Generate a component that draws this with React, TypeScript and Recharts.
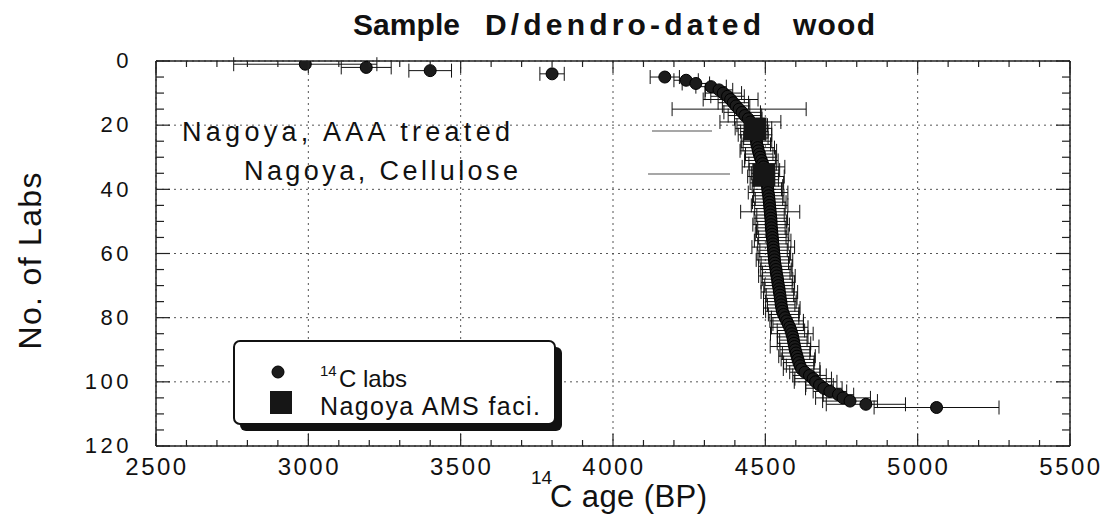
import React from "react"
import { ScatterChart, Scatter, XAxis, YAxis, CartesianGrid, ErrorBar, ReferenceLine } from "recharts"

// 14C ages (BP) of the labs, sorted, one per rank
const ages = [
  2990, 3190, 3400, 3800, 4170, 4240, 4272, 4322, 4348, 4362,
  4376, 4386, 4395, 4404, 4414, 4424, 4433, 4444, 4451, 4457,
  4461, 4464, 4466, 4469, 4471, 4472, 4475, 4477, 4480, 4483,
  4487, 4491, 4494, 4497, 4499, 4502, 4503, 4505, 4507, 4508,
  4509, 4511, 4512, 4513, 4514, 4515, 4516, 4517, 4518, 4519,
  4519, 4520, 4521, 4522, 4523, 4524, 4525, 4526, 4527, 4528,
  4529, 4530, 4531, 4533, 4535, 4536, 4538, 4540, 4541, 4543,
  4545, 4546, 4548, 4549, 4551, 4552, 4554, 4556, 4560, 4565,
  4570, 4575, 4580, 4584, 4587, 4590, 4592, 4594, 4596, 4598,
  4601, 4604, 4607, 4610, 4614, 4619, 4630, 4645, 4657, 4665,
  4678, 4692, 4712, 4740, 4755, 4778, 4830, 5062,
]

// 1-sigma errors
const errors = [
  235, 82, 70, 40, 48, 40, 45, 50, 45, 60,
  55, 90, 50, 45, 220, 60, 55, 45, 100, 50,
  60, 45, 55, 40, 50, 45, 55, 60, 45, 50,
  55, 45, 70, 50, 45, 60, 40, 55, 50, 45,
  65, 50, 45, 55, 60, 50, 97, 45, 55, 50,
  60, 45, 50, 55, 45, 60, 50, 70, 45, 55,
  50, 60, 45, 55, 50, 45, 60, 50, 55, 45,
  50, 60, 45, 55, 50, 45, 60, 55, 50, 45,
  55, 50, 60, 45, 70, 50, 45, 55, 80, 50,
  45, 60, 55, 50, 45, 60, 50, 55, 60, 70,
  45, 60, 55, 50, 90, 90, 130, 205,
]

const nagoyaAges = [4466, 4495]
const nagoyaRanks = [21.2, 35.5]
const nagoyaErrors = [30, 30]

const xTicks = [2500, 3000, 3500, 4000, 4500, 5000, 5500]
const yTicks = [0, 20, 40, 60, 80, 100, 120]
const xMinorTicks = Array.from({ length: 31 }, (_, i) => 2500 + i * 100)
const yMinorTicks = Array.from({ length: 25 }, (_, i) => i * 5)

const labs = ages.map((age, i) => ({ age, rank: i + 1, err: errors[i] }))
const nagoya = nagoyaAges.map((age, i) => ({ age, rank: nagoyaRanks[i], err: nagoyaErrors[i] }))

const FONT = "'Liberation Sans', Arial, Helvetica, sans-serif"
const INK = "#111"
const TICK = "#222"
const frame = { stroke: "#222", strokeWidth: 1.5 }

const LabDot = (props: any) => (
  <circle cx={props.cx} cy={props.cy} r={6} fill="#1c1c1c" stroke="#000" strokeWidth={1} />
)

const NagoyaSquare = (props: any) => (
  <rect x={props.cx - 11.5} y={props.cy - 11.5} width={23} height={23} fill="#161616" />
)

const Hidden = () => <g />

function isMajor(v: number, step: number) {
  return v % step === 0
}

// ticks point into the plot; majors are longer and carry the labels
const BottomTick = ({ x, y, payload }: any) => {
  const major = isMajor(payload.value, 500)
  return (
    <g>
      <line x1={x} x2={x} y1={y} y2={y - (major ? 12 : 6)} stroke={TICK} strokeWidth={1.2} />
      {major && (
        <text x={x + 1} y={y + 12} dy="0.71em" textAnchor="middle" fontSize={24} fill={INK} letterSpacing={2.5}>
          {payload.value}
        </text>
      )}
    </g>
  )
}

const TopTick = ({ x, y, payload }: any) => {
  const major = isMajor(payload.value, 500)
  return <line x1={x} x2={x} y1={y} y2={y + (major ? 12 : 6)} stroke={TICK} strokeWidth={1.2} />
}

const LeftTick = ({ x, y, payload }: any) => {
  const major = isMajor(payload.value, 20)
  return (
    <g>
      <line x1={x} x2={x + (major ? 14 : 8)} y1={y} y2={y} stroke={TICK} strokeWidth={1.2} />
      {major && (
        <text x={x - 24} y={y} dy="0.33em" textAnchor="end" fontSize={22} fill={INK} letterSpacing={3.5}>
          {payload.value}
        </text>
      )}
    </g>
  )
}

const RightTick = ({ x, y, payload }: any) => {
  const major = isMajor(payload.value, 20)
  return <line x1={x} x2={x - (major ? 14 : 8)} y1={y} y2={y} stroke={TICK} strokeWidth={1.2} />
}

export default function App() {
  return (
    <div style={{ position: "absolute", left: 0, top: 0, width: 1109, height: 520, background: "#fff", fontFamily: FONT }}>
      <ScatterChart width={1109} height={520} margin={{ top: 61, right: 39, bottom: 0, left: 0 }}>
        <CartesianGrid strokeDasharray="2 4" stroke="#555" strokeWidth={1} verticalValues={xTicks} horizontalValues={yTicks} />

        <XAxis type="number" dataKey="age" domain={[2500, 5500]} ticks={xMinorTicks} interval={0} allowDataOverflow
          height={74} tickLine={false} tickSize={0} tickMargin={0} axisLine={frame} tick={<BottomTick />} />
        <XAxis xAxisId="top" orientation="top" type="number" dataKey="age" domain={[2500, 5500]} ticks={xMinorTicks} interval={0}
          allowDataOverflow mirror height={1} tickLine={false} tickSize={0} tickMargin={0} axisLine={frame} tick={<TopTick />} />

        <YAxis type="number" dataKey="rank" domain={[0, 120]} reversed ticks={yMinorTicks} interval={0} allowDataOverflow
          width={156} tickLine={false} tickSize={0} tickMargin={0} axisLine={frame} tick={<LeftTick />} />
        <YAxis yAxisId="right" orientation="right" type="number" dataKey="rank" domain={[0, 120]} reversed ticks={yMinorTicks}
          interval={0} allowDataOverflow mirror width={1} tickLine={false} tickSize={0} tickMargin={0} axisLine={frame} tick={<RightTick />} />

        <ReferenceLine segment={[{ x: 4128, y: 21.8 }, { x: 4325, y: 21.8 }]} stroke="#8a8a8a" strokeWidth={1.5} />
        <ReferenceLine segment={[{ x: 4115, y: 35.2 }, { x: 4384, y: 35.2 }]} stroke="#8a8a8a" strokeWidth={1.5} />

        {/* binds the top / right frame axes to the data so they get a scale */}
        <Scatter data={labs} xAxisId="top" yAxisId="right" shape={Hidden} legendType="none" isAnimationActive={false} />

        <Scatter data={labs} shape={LabDot} isAnimationActive={false}>
          <ErrorBar dataKey="err" direction="x" width={7} stroke="#111" strokeWidth={1} />
        </Scatter>
        <Scatter data={nagoya} shape={NagoyaSquare} isAnimationActive={false}>
          <ErrorBar dataKey="err" direction="x" width={7} stroke="#111" strokeWidth={1} />
        </Scatter>
      </ScatterChart>

      <svg width={1109} height={520} style={{ position: "absolute", left: 0, top: 0, pointerEvents: "none" }}>
        {/* title */}
        <g fontSize={30} fontWeight="bold" fill={INK}>
          <text x={353} y={35} textLength={107} lengthAdjust="spacing">Sample</text>
          <text x={485} y={35} textLength={276} lengthAdjust="spacing">D/dendro-dated</text>
          <text x={793} y={35} textLength={82} lengthAdjust="spacing">wood</text>
        </g>

        {/* axis titles */}
        <text transform="translate(41,261) rotate(-90)" textAnchor="middle" fontSize={32} fill={INK}
          textLength={177} lengthAdjust="spacing">No. of Labs</text>
        <text x={531} y={484} fontSize={19} fill={INK}>14</text>
        <text x={550} y={507} fontSize={31} fill={INK} textLength={157} lengthAdjust="spacing">C age (BP)</text>

        {/* annotations */}
        <text x={182} y={141} fontSize={27} fill={INK} textLength={328} lengthAdjust="spacing">Nagoya, AAA treated</text>
        <text x={244} y={180} fontSize={27} fill={INK} textLength={274} lengthAdjust="spacing">Nagoya, Cellulose</text>

        {/* legend */}
        <rect x={240} y={347} width={322} height={84} rx={6} fill="#111" />
        <rect x={234} y={341} width={321} height={83} rx={6} fill="#fff" stroke="#111" strokeWidth={2} />
        <circle cx={278} cy={372} r={6} fill="#1c1c1c" stroke="#000" />
        <rect x={270} y={391} width={22} height={23} fill="#161616" />
        <text x={320} y={376} fontSize={15} fill={INK}>14</text>
        <text x={339} y={387} fontSize={24} fill={INK}>C labs</text>
        <text x={320} y={415} fontSize={25} fill={INK} textLength={220} lengthAdjust="spacing">Nagoya AMS faci.</text>
      </svg>
    </div>
  )
}
